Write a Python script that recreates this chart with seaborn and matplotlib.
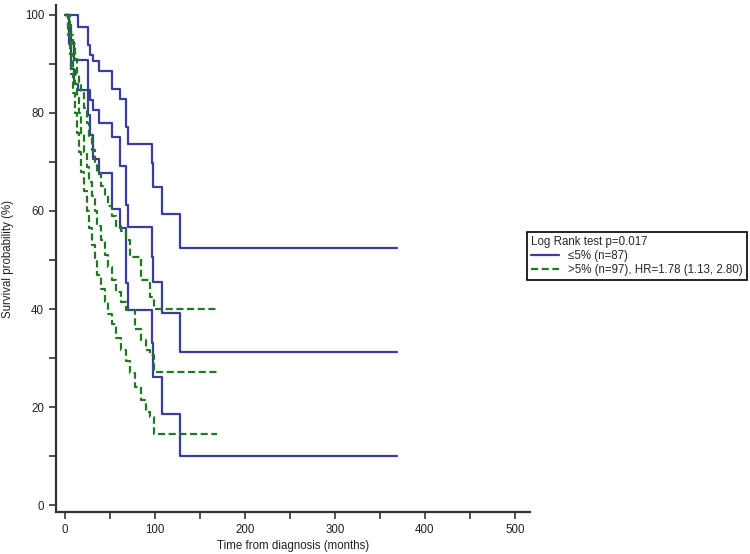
import seaborn as sns
import pandas as pd
import matplotlib.pyplot as plt
from matplotlib.lines import Line2D

# step times (months) and survival (%)
blue_t = [0, 4, 7, 10, 14, 25, 28, 31.5, 38, 52, 61, 68, 70.5, 96.3, 98.1, 108.1, 127.8, 369]
blue_hi = [100, 100, 100, 100, 97.5, 93.9, 91.8, 90.5, 88.6, 84.8, 82.8, 77.1, 73.7, 69.7, 64.8, 59.4, 52.4, 52.4]
blue_mid = [100, 97.5, 94.5, 90.7, 90.7, 84.7, 82.7, 80.6, 78.0, 75.1, 69.2, 61.2, 56.7, 50.7, 45.6, 39.1, 31.3, 31.3]
blue_lo = [100, 94, 89, 86, 84.7, 79.5, 75.5, 70.7, 67.7, 60.5, 56.5, 45.3, 39.8, 33.0, 26.2, 18.6, 10.0, 10.0]

green_t = [0, 3, 5, 7, 9, 11, 13, 15, 18, 21, 24, 27, 30, 33, 36, 40, 44, 48, 52, 57, 62, 68, 72, 78,
           85, 90, 94.4, 98.5, 168.5]
green_hi = [100, 100, 98, 96, 94, 91, 88, 86, 84, 81, 78, 75, 72.5, 70, 67.5, 65, 63, 61, 59, 57, 56, 54,
            50.7, 50.7, 45.9, 45.9, 42.5, 40.1, 40.1]
green_mid = [100, 98, 95, 92, 89, 86, 83, 80, 76, 72, 69, 66, 63, 60, 57, 54, 51, 48.5, 46, 43.5, 41.5,
             39.8, 39.8, 36, 33.7, 31.6, 30.6, 27.2, 27.2]
green_lo = [100, 96, 92, 88, 84, 80, 76, 72, 68, 64, 60, 56.5, 53, 50, 47, 44, 41.5, 39, 37, 34, 31.6,
            29.5, 27, 24, 21.4, 19, 18, 14.6, 14.6]

label_a = '≤5% (n=87)'
label_b = '>5% (n=97), HR=1.78 (1.13, 2.80)'
blue = '#3a3d9c'
green = '#1f7a1f'

frames = []
for name, vals in [('a_hi', blue_hi), ('a_mid', blue_mid), ('a_lo', blue_lo)]:
    frames.append(pd.DataFrame({'time': blue_t, 'surv': vals, 'group': label_a, 'curve': name}))
for name, vals in [('b_hi', green_hi), ('b_mid', green_mid), ('b_lo', green_lo)]:
    frames.append(pd.DataFrame({'time': green_t, 'surv': vals, 'group': label_b, 'curve': name}))
df = pd.concat(frames, ignore_index=True)

sns.set_style('white')
plt.rcParams['font.family'] = ['Liberation Sans', 'DejaVu Sans']

fig = plt.figure(figsize=(7.5, 5.54), dpi=100)
ax = fig.add_axes([0.0747, 0.0758, 0.632, 0.915])

sns.lineplot(
    data=df, x='time', y='surv', hue='group', style='group', units='curve',
    estimator=None, sort=False, drawstyle='steps-post',
    palette={label_a: blue, label_b: green},
    dashes={label_a: '', label_b: (3.2, 1.6)},
    linewidth=1.6, legend=False, ax=ax,
)

ax.set_xlim(-10, 517)
ax.set_ylim(-1.4, 102)
ax.set_xticks(range(0, 501, 100))
ax.set_xticks(range(50, 501, 100), minor=True)
ax.set_yticks(range(0, 101, 20))
ax.set_yticks(range(10, 100, 20), minor=True)
ax.tick_params(which='both', direction='out', length=5, width=1.2, color='#333333',
               labelsize=8.3, labelcolor='#222222', bottom=True, left=True)
for s in ['top', 'right']:
    ax.spines[s].set_visible(False)
for s in ['left', 'bottom']:
    ax.spines[s].set_linewidth(1.6)
    ax.spines[s].set_color('#333333')

ax.set_xlabel('Time from diagnosis (months)', fontsize=8.3, color='#222222', labelpad=3)
ax.set_ylabel('Survival probability (%)', fontsize=8.3, color='#222222', labelpad=8)

handles = [
    Line2D([], [], color=blue, linewidth=1.6),
    Line2D([], [], color=green, linewidth=1.6, linestyle=(0, (3.2, 1.6))),
]
leg = ax.legend(
    handles, [label_a, label_b], title='Log Rank test p=0.017',
    loc='upper left', bbox_to_anchor=(0.703, 0.581), bbox_transform=fig.transFigure,
    fontsize=8.3, title_fontsize=8.3, frameon=True, fancybox=False, framealpha=1,
    edgecolor='black', borderpad=0.35, labelspacing=0.15, handlelength=2.4,
    handletextpad=0.8, borderaxespad=0, alignment='left',
)
leg.get_frame().set_linewidth(1.2)

fig.savefig('out.png', dpi=100)
